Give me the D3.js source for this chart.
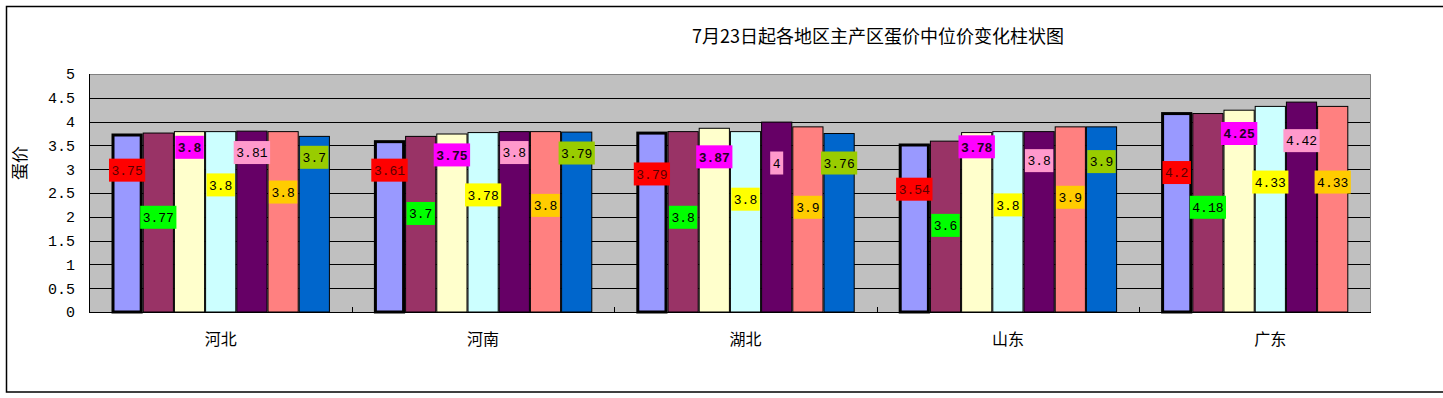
<!DOCTYPE html>
<html>
<head>
<meta charset="utf-8">
<script src="https://cdn.jsdelivr.net/npm/d3@7/dist/d3.min.js"></script>
<style>
  body { margin: 0; background: #fff; }
  svg { display: block; }
</style>
</head>
<body>
<div id="chart"></div>
<script>
// regions (categories)
const regions = ['河北', '河南', '湖北', '山东', '广东'];
const seriesIds = ['s1', 's2', 's3', 's4', 's5', 's6', 's7'];

// values per series, one per region (广东 has no 7th value)
const s1 = [3.75, 3.61, 3.79, 3.54, 4.2];
const s2 = [3.77, 3.7, 3.8, 3.6, 4.18];
const s3 = [3.8, 3.75, 3.87, 3.78, 4.25];
const s4 = [3.8, 3.78, 3.8, 3.8, 4.33];
const s5 = [3.81, 3.8, 4, 3.8, 4.42];
const s6 = [3.8, 3.8, 3.9, 3.9, 4.33];
const s7 = [3.7, 3.79, 3.76, 3.9, null];

// where each data label sits (in price units), same layout as values
const labelLevels = [
  [2.98, 2.98, 2.90, 2.58, 2.93],
  [1.99, 2.07, 1.99, 1.82, 2.20],
  [3.46, 3.30, 3.26, 3.47, 3.75],
  [2.67, 2.46, 2.37, 2.25, 2.73],
  [3.35, 3.35, 3.13, 3.18, 3.60],
  [2.52, 2.24, 2.20, 2.41, 2.73],
  [3.25, 3.34, 3.13, 3.16, null]
];

const yTicks = [0, 0.5, 1, 1.5, 2, 2.5, 3, 3.5, 4, 4.5, 5];
const title = '7月23日起各地区主产区蛋价中位价变化柱状图';
const yLabel = '蛋价';

const barColors = ['#9999FF', '#993366', '#FFFFCC', '#CCFFFF', '#660066', '#FF8080', '#0066CC'];
const labelFills = ['#FF0000', '#00FF00', '#FF00FF', '#FFFF00', '#FF99CC', '#FFCC00', '#99CC00'];
const labelInk = ['#5a0000', '#000', '#220022', '#000', '#000', '#000', '#000'];

const allSeries = [s1, s2, s3, s4, s5, s6, s7];

const W = 1443, H = 398;
const plot = { left: 89.5, top: 74, right: 1371, bottom: 312 };
const bandW = 262.4;

const svg = d3.select('#chart').append('svg')
  .attr('width', W).attr('height', H);

// outer frame
svg.append('rect')
  .attr('x', 6.5).attr('y', 6.5)
  .attr('width', W).attr('height', 385.5)
  .attr('fill', '#fff').attr('stroke', '#000').attr('stroke-width', 1.5);

const x0 = d3.scaleBand()
  .domain(regions)
  .range([plot.left, plot.left + bandW * regions.length])
  .padding(0);

const x1 = d3.scaleBand()
  .domain(seriesIds)
  .range([22, bandW - 22])
  .padding(0);

const y = d3.scaleLinear()
  .domain([0, 5])
  .range([plot.bottom, plot.top]);

// plot background
svg.append('rect')
  .attr('x', plot.left).attr('y', plot.top)
  .attr('width', plot.right - plot.left).attr('height', plot.bottom - plot.top)
  .attr('fill', '#C0C0C0');

// gridlines
svg.append('g')
  .selectAll('line')
  .data(yTicks.filter(t => t > 0 && t < 5))
  .enter().append('line')
  .attr('x1', plot.left).attr('x2', plot.right)
  .attr('y1', d => Math.round(y(d)) + 0.5).attr('y2', d => Math.round(y(d)) + 0.5)
  .attr('stroke', '#000').attr('stroke-width', 1);

// top and right border of plot area
svg.append('path')
  .attr('d', `M${plot.left},${plot.top + 0.5}H${plot.right - 0.5}V${plot.bottom}`)
  .attr('fill', 'none').attr('stroke', '#808080').attr('stroke-width', 1);

// bars
const rows = [];
allSeries.forEach((vals, si) => {
  vals.forEach((v, ri) => {
    if (v == null) return;
    rows.push({ region: regions[ri], sid: seriesIds[si], si, value: v, level: labelLevels[si][ri] });
  });
});

const groups = svg.append('g').selectAll('g')
  .data(regions)
  .enter().append('g')
  .attr('transform', d => `translate(${x0(d)},0)`);

groups.selectAll('rect')
  .data(r => rows.filter(d => d.region === r))
  .enter().append('rect')
  .attr('x', d => x1(d.sid) + (d.si === 0 ? 1.5 : 0.5))
  .attr('y', d => y(d.value) + (d.si === 0 ? 1.5 : 0.5))
  .attr('width', d => x1.bandwidth() - (d.si === 0 ? 3 : 1))
  .attr('height', d => y(0) - y(d.value) - (d.si === 0 ? 1.5 : 0.5))
  .attr('fill', d => barColors[d.si])
  .attr('stroke', '#000')
  .attr('stroke-width', d => d.si === 0 ? 3 : 1);

// data labels
const lab = groups.selectAll('g.lab')
  .data(r => rows.filter(d => d.region === r))
  .enter().append('g')
  .attr('class', 'lab')
  .attr('transform', d => `translate(${x1(d.sid) + x1.bandwidth() / 2},${y(d.level)})`);

lab.append('rect').attr('class', 'bg');
lab.append('text')
  .attr('text-anchor', 'middle')
  .attr('dy', '0.36em')
  .attr('font-family', '"Liberation Mono", "DejaVu Sans Mono", monospace')
  .attr('font-size', 13)
  .attr('font-weight', d => d.si === 2 ? 'bold' : 'normal')
  .attr('fill', d => labelInk[d.si])
  .text(d => d.value);

lab.each(function () {
  const g = d3.select(this);
  const bb = g.select('text').node().getBBox();
  g.select('rect.bg')
    .attr('x', -bb.width / 2 - 2.5).attr('y', -11.5)
    .attr('width', bb.width + 5).attr('height', 23)
    .attr('fill', d => labelFills[d.si]);
});

// x axis line with inward ticks
svg.append('line')
  .attr('x1', plot.left).attr('x2', plot.right)
  .attr('y1', plot.bottom + 0.5).attr('y2', plot.bottom + 0.5)
  .attr('stroke', '#000');

svg.append('g')
  .selectAll('line')
  .data(regions.slice(1))
  .enter().append('line')
  .attr('x1', d => Math.round(x0(d)) + 0.5).attr('x2', d => Math.round(x0(d)) + 0.5)
  .attr('y1', plot.bottom - 5).attr('y2', plot.bottom)
  .attr('stroke', '#000');

svg.append('g')
  .selectAll('text')
  .data(regions)
  .enter().append('text')
  .attr('x', d => x0(d) + bandW / 2)
  .attr('y', 339)
  .attr('dy', '0.35em')
  .attr('text-anchor', 'middle')
  .attr('font-family', '"Noto Sans CJK SC", sans-serif')
  .attr('font-size', 16)
  .attr('fill', '#000')
  .text(d => d);

// y axis line
svg.append('line')
  .attr('x1', plot.left).attr('x2', plot.left)
  .attr('y1', plot.top).attr('y2', plot.bottom + 1)
  .attr('stroke', '#000');

svg.append('g')
  .selectAll('text')
  .data(yTicks)
  .enter().append('text')
  .attr('x', 75)
  .attr('y', d => y(d))
  .attr('dy', '0.36em')
  .attr('text-anchor', 'end')
  .attr('font-family', '"Liberation Mono", monospace')
  .attr('font-size', 15)
  .attr('fill', '#000')
  .text(d => d);

// axis title
svg.append('text')
  .attr('transform', 'translate(20,163) rotate(-90)')
  .attr('text-anchor', 'middle')
  .attr('dy', '0.35em')
  .attr('font-family', '"Noto Sans CJK SC", sans-serif')
  .attr('font-size', 17)
  .text(yLabel);

// chart title
svg.append('text')
  .attr('x', 878).attr('y', 37)
  .attr('dy', '0.35em')
  .attr('text-anchor', 'middle')
  .attr('font-family', '"Noto Sans CJK SC", sans-serif')
  .attr('font-size', 18)
  .attr('fill', '#000')
  .text(title);
</script>
</body>
</html>
